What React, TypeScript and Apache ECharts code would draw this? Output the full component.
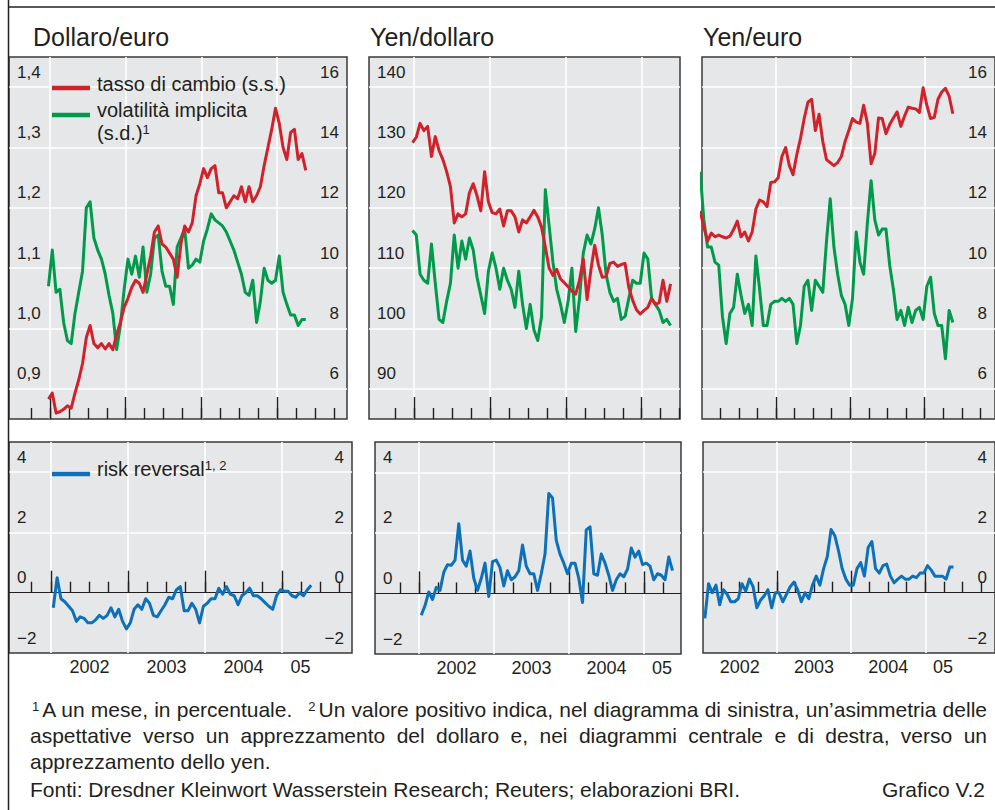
import React, { useEffect, useRef } from 'react';
import * as echarts from 'echarts';

// ---- time base: points every 0.05 year starting late Dec 2001 ----
const START = 2001.98;
const STEP = 0.05;

// ---- Dollaro/euro ----
const usdEurRate = [0.883, 0.893, 0.86, 0.862, 0.866, 0.872, 0.868, 0.893, 0.915, 0.942, 0.985, 1.005, 0.975, 0.968, 0.975, 0.966, 0.975, 0.965, 0.99, 1.01, 1.035, 1.05, 1.068, 1.08, 1.075, 1.06, 1.09, 1.12, 1.16, 1.17, 1.14, 1.135, 1.125, 1.115, 1.085, 1.14, 1.17, 1.16, 1.175, 1.22, 1.24, 1.265, 1.25, 1.265, 1.27, 1.225, 1.225, 1.2, 1.21, 1.22, 1.215, 1.235, 1.21, 1.235, 1.21, 1.22, 1.235, 1.27, 1.3, 1.33, 1.365, 1.34, 1.3, 1.28, 1.325, 1.33, 1.28, 1.29, 1.262];
const usdEurVol = [9.4, 10.6, 9.2, 9.3, 8.2, 7.6, 7.5, 8.5, 9.2, 9.9, 12.0, 12.2, 11.0, 10.6, 10.3, 9.8, 9.1, 8.5, 7.3, 8.1, 9.3, 10.3, 9.8, 10.4, 9.7, 10.7, 9.2, 9.8, 11.0, 11.1, 9.9, 9.4, 9.4, 8.8, 10.7, 11.0, 11.3, 10.0, 10.1, 10.3, 10.2, 10.9, 11.3, 11.8, 11.6, 11.5, 11.4, 11.2, 10.9, 10.6, 10.2, 9.8, 9.2, 9.1, 9.6, 8.2, 8.9, 10.0, 9.6, 9.5, 9.6, 10.4, 9.2, 8.8, 8.45, 8.45, 8.1, 8.3, 8.3];
const rrUsdEur = [null, -0.5, 0.5, -0.2, -0.3, -0.45, -0.6, -0.95, -0.8, -0.85, -1.0, -1.0, -0.9, -0.75, -0.85, -0.75, -0.5, -0.8, -0.55, -0.95, -1.2, -1.0, -0.55, -0.4, -0.55, -0.2, -0.35, -0.75, -0.8, -0.6, -0.4, -0.15, -0.2, 0.1, 0.2, -0.6, -0.6, -0.35, -0.55, -1.0, -0.45, -0.35, -0.2, -0.2, 0.15, -0.05, 0.2, -0.05, -0.1, -0.4, -0.1, 0.0, 0.15, -0.1, -0.1, -0.2, -0.33, -0.45, -0.55, -0.1, 0.1, 0.05, 0.05, -0.1, -0.15, 0.0, -0.1, 0.1, 0.25];

// ---- Yen/dollaro ----
const jpyUsdRate = [130.8, 131.7, 134.0, 132.8, 133.5, 128.5, 131.8, 129.5, 128.0, 126.0, 123.5, 117.5, 119.0, 118.5, 119.0, 122.5, 124.0, 122.0, 119.5, 126.0, 121.0, 119.2, 119.0, 119.8, 117.0, 119.5, 119.5, 118.5, 116.0, 118.0, 117.5, 118.5, 119.6, 118.5, 116.8, 113.5, 110.0, 108.8, 109.8, 108.2, 107.6, 106.9, 106.2, 105.7, 108.0, 111.5, 104.8, 109.7, 113.8, 110.5, 108.5, 108.6, 110.8, 111.0, 110.3, 110.6, 110.8, 106.8, 104.7, 103.1, 102.4, 103.0, 103.5, 105.0, 104.0, 104.3, 108.0, 104.5, 107.4];
const jpyUsdVol = [11.25, 11.1, 9.8, 9.6, 9.5, 10.8, 9.5, 8.3, 8.2, 8.9, 9.5, 11.1, 10.0, 10.9, 10.3, 11.0, 10.6, 9.7, 9.1, 8.5, 9.9, 10.5, 10.0, 9.3, 10.0, 9.6, 9.3, 8.7, 9.9, 8.8, 8.0, 8.8, 7.95, 7.6, 8.4, 12.6, 11.4, 10.2, 9.3, 8.8, 8.2, 8.9, 10.0, 7.9, 9.0, 10.5, 11.1, 10.8, 11.3, 12.0, 11.1, 9.8, 9.2, 8.9, 9.0, 8.3, 8.4, 9.0, 9.6, 9.5, 9.5, 10.5, 10.3, 9.0, 8.8, 8.6, 8.2, 8.3, 8.1];
const rrJpyUsd = [null, -0.72, -0.4, 0.05, -0.2, 0.2, 0.1, 0.7, 0.95, 0.93, 1.1, 2.3, 1.1, 0.9, 1.4, 0.5, 0.1, 0.5, 1.0, -0.1, 1.05, 1.1, 0.85, 0.25, 0.75, 0.45, 0.55, 0.75, 1.6, 0.9, 0.65, 0.65, 0.1, 0.65, 1.3, 3.3, 3.15, 1.75, 1.3, 1.0, 0.65, 1.0, 1.0, 0.5, -0.3, 2.1, 2.2, 0.65, 0.6, 1.3, 1.0, 0.6, 0.1, 0.45, 0.65, 0.55, 0.8, 1.5, 1.2, 1.4, 0.95, 1.0, 0.9, 0.45, 0.65, 0.6, 0.45, 1.2, 0.75];

// ---- Yen/euro ----
const jpyEurRate = [119.5, 116.8, 114.5, 115.8, 115.2, 115.5, 115.2, 115.0, 115.3, 116.4, 117.8, 115.2, 116.0, 114.5, 116.0, 119.8, 121.3, 121.0, 120.2, 124.2, 124.3, 125.0, 128.5, 130.0, 127.0, 125.5, 128.8, 131.5, 134.8, 137.5, 138.0, 132.8, 135.5, 131.0, 128.0, 127.5, 127.0, 127.5, 128.5, 131.0, 132.8, 134.8, 134.2, 134.0, 137.0, 134.0, 127.3, 129.0, 134.9, 134.8, 132.3, 133.8, 134.9, 135.9, 133.5, 135.2, 136.7, 136.5, 136.4, 135.8, 139.9, 137.0, 134.8, 135.0, 138.0, 139.2, 139.8, 138.5, 135.6];
const jpyEurVol = [13.2, 11.6, 10.7, 10.7, 10.2, 10.1, 8.4, 7.5, 8.5, 8.7, 9.8, 9.1, 8.5, 8.8, 8.1, 10.4, 9.3, 8.1, 8.1, 8.8, 8.9, 8.9, 9.0, 8.9, 9.0, 8.8, 7.5, 8.1, 9.4, 9.6, 8.6, 9.6, 9.4, 9.2, 10.9, 12.3, 10.7, 9.8, 9.1, 8.8, 8.1, 9.0, 11.2, 10.2, 9.8, 11.5, 12.9, 11.6, 11.1, 11.3, 11.3, 10.1, 9.3, 8.3, 8.6, 8.1, 8.7, 8.2, 8.6, 8.7, 8.3, 9.4, 9.7, 8.5, 8.1, 8.1, 7.0, 8.6, 8.2];
const rrJpyEur = [null, -0.85, 0.3, 0.0, 0.25, -0.4, 0.1, -0.05, -0.3, -0.3, -0.2, 0.3, 0.05, 0.45, 0.2, -0.5, -0.25, -0.1, 0.1, -0.5, 0.0, 0.0, -0.3, -0.05, 0.2, 0.35, 0.1, -0.3, 0.0, -0.2, 0.25, 0.55, 0.25, 0.8, 1.2, 2.1, 1.9, 1.4, 0.8, 0.45, 0.25, 0.25, 0.8, 1.0, 0.55, 1.5, 1.7, 0.8, 0.65, 0.9, 0.95, 0.55, 0.33, 0.45, 0.55, 0.45, 0.45, 0.55, 0.5, 0.65, 0.65, 0.9, 0.75, 0.55, 0.55, 0.55, 0.45, 0.85, 0.85];

// ---- ticks / labels ----
const quarterTicks = [2001.75, 2002, 2002.25, 2002.5, 2002.75, 2003, 2003.25, 2003.5, 2003.75, 2004, 2004.25, 2004.5, 2004.75, 2005, 2005.25, 2005.5, 2005.75];
const yearTicks = [2002, 2003, 2004, 2005];
const yearLabelPos = [2002.5, 2003.5, 2004.5, 2005.24];
const yearLabels = ['2002', '2003', '2004', '05'];
const dollarEuroTicks = [0.9, 1.0, 1.1, 1.2, 1.3, 1.4];
const yenTicks = [90, 100, 110, 120, 130, 140];
const volTicks = [6, 8, 10, 12, 14, 16];
const rrTicks = [-2, 0, 2, 4];
const rrGridTicks = [2, 4];

const FONT = '"Liberation Sans", Arial, Helvetica, sans-serif';
const INK = '#231f20';
const RED = '#d0222b';
const GREEN = '#009a4b';
const BLUE = '#0c71b8';
const PANEL_BG = '#e6e7e8';

const toPairs = (vals: (number | null)[]) => {
  const out: number[][] = [];
  vals.forEach((v, i) => {
    if (v !== null) out.push([START + STEP * i, v]);
  });
  return out;
};

const commaFmt = (v: number) => Number(v).toFixed(1).replace('.', ',');
const intFmt = (v: number) => String(Math.round(v));
const signedFmt = (v: number) => (v < 0 ? '\u2212' + Math.abs(Math.round(v)) : String(Math.round(v)));
const yearFmt = (v: number) => {
  let best = 0;
  yearLabelPos.forEach((p, k) => {
    if (Math.abs(p - v) < Math.abs(yearLabelPos[best] - v)) best = k;
  });
  return yearLabels[best];
};

type S = { name: string; data: (number | null)[]; color: string; axis: 'left' | 'right' };
type Panel = {
  rect: [number, number, number, number];
  xMin: number;
  xMax: number;
  yLeft: [number, number];
  yRight: [number, number];
  gridVals: number[];
  leftLabels?: { values: number[]; fmt: (v: number) => string };
  rightLabels?: { values: number[]; fmt: (v: number) => string };
  zeroLine?: boolean;
  yearAxisLabels?: boolean;
  series: S[];
};

const panels: Panel[] = [
  {
    rect: [9, 57, 338, 362], xMin: 2001.458, xMax: 2005.925, yLeft: [0.85, 1.45], yRight: [5, 17],
    gridVals: dollarEuroTicks,
    leftLabels: { values: dollarEuroTicks, fmt: commaFmt },
    rightLabels: { values: volTicks, fmt: intFmt },
    series: [
      { name: 'volatilità implicita – dollaro/euro', data: usdEurVol, color: GREEN, axis: 'right' },
      { name: 'tasso di cambio – dollaro/euro', data: usdEurRate, color: RED, axis: 'left' },
    ],
  },
  {
    rect: [369, 57, 311, 362], xMin: 2001.407, xMax: 2005.504, yLeft: [85, 145], yRight: [5, 17],
    gridVals: yenTicks,
    leftLabels: { values: yenTicks, fmt: intFmt },
    series: [
      { name: 'volatilità implicita – yen/dollaro', data: jpyUsdVol, color: GREEN, axis: 'right' },
      { name: 'tasso di cambio – yen/dollaro', data: jpyUsdRate, color: RED, axis: 'left' },
    ],
  },
  {
    rect: [702, 57, 298, 362], xMin: 2002.005, xMax: 2005.947, yLeft: [85, 145], yRight: [5, 17],
    gridVals: yenTicks,
    rightLabels: { values: volTicks, fmt: intFmt },
    series: [
      { name: 'volatilità implicita – yen/euro', data: jpyEurVol, color: GREEN, axis: 'right' },
      { name: 'tasso di cambio – yen/euro', data: jpyEurRate, color: RED, axis: 'left' },
    ],
  },
  {
    rect: [9, 442, 343, 211], xMin: 2001.455, xMax: 2005.91, yLeft: [-2, 5], yRight: [-2, 5],
    gridVals: rrGridTicks, zeroLine: true, yearAxisLabels: true,
    leftLabels: { values: rrTicks, fmt: signedFmt },
    rightLabels: { values: rrTicks, fmt: signedFmt },
    series: [{ name: 'risk reversal – dollaro/euro', data: rrUsdEur, color: BLUE, axis: 'left' }],
  },
  {
    rect: [375, 442, 306, 212], xMin: 2001.413, xMax: 2005.493, yLeft: [-2, 5], yRight: [-2, 5],
    gridVals: rrGridTicks, zeroLine: true, yearAxisLabels: true,
    leftLabels: { values: rrTicks, fmt: signedFmt },
    series: [{ name: 'risk reversal – yen/dollaro', data: rrJpyUsd, color: BLUE, axis: 'left' }],
  },
  {
    rect: [703, 442, 297, 211], xMin: 2002.005, xMax: 2005.939, yLeft: [-2, 5], yRight: [-2, 5],
    gridVals: rrGridTicks, zeroLine: true, yearAxisLabels: true,
    rightLabels: { values: rrTicks, fmt: signedFmt },
    series: [{ name: 'risk reversal – yen/euro', data: rrJpyEur, color: BLUE, axis: 'left' }],
  },
];

const yLabel = (values: number[], fmt: (v: number) => string) => ({
  show: true,
  inside: true,
  customValues: values,
  formatter: fmt,
  margin: 8,
  verticalAlign: 'bottom',
  lineHeight: 30,
  fontSize: 17,
  fontFamily: FONT,
  color: INK,
});

function buildOption() {
  const grid: any[] = [];
  const xAxis: any[] = [];
  const yAxis: any[] = [];
  const series: any[] = [];
  const tickLine = { color: INK, width: 1.4 };
  const white = { color: '#ffffff', width: 1.6 };

  panels.forEach((p, g) => {
    grid.push({
      left: p.rect[0], top: p.rect[1], width: p.rect[2], height: p.rect[3],
      show: true, backgroundColor: PANEL_BG, borderColor: '#3a3a3a', borderWidth: 1.5,
    });
    const xIdx = xAxis.length;
    xAxis.push({
      type: 'value', gridIndex: g, position: 'bottom', min: p.xMin, max: p.xMax,
      axisLine: { show: false },
      axisTick: { show: true, inside: true, length: 11, customValues: quarterTicks, lineStyle: tickLine },
      splitLine: { show: false },
      axisLabel: p.yearAxisLabels
        ? { show: true, customValues: yearLabelPos, formatter: yearFmt, margin: 14, verticalAlign: 'middle', fontSize: 18, fontFamily: FONT, color: INK }
        : { show: false },
    });
    xAxis.push({
      type: 'value', gridIndex: g, position: 'bottom', min: p.xMin, max: p.xMax,
      axisLine: { show: false },
      axisTick: { show: true, inside: true, length: 22, customValues: yearTicks, lineStyle: tickLine },
      splitLine: { show: true, lineStyle: white },
      axisLabel: { show: false },
    });
    const yl = yAxis.length;
    yAxis.push({
      type: 'value', gridIndex: g, position: 'left', min: p.yLeft[0], max: p.yLeft[1],
      axisLine: { show: false },
      axisTick: { show: false, customValues: p.gridVals },
      splitLine: { show: true, lineStyle: white },
      axisLabel: p.leftLabels ? yLabel(p.leftLabels.values, p.leftLabels.fmt) : { show: false },
    });
    const yr = yAxis.length;
    yAxis.push({
      type: 'value', gridIndex: g, position: 'right', min: p.yRight[0], max: p.yRight[1],
      axisLine: { show: false },
      axisTick: { show: false, customValues: p.rightLabels ? p.rightLabels.values : [] },
      splitLine: { show: false },
      axisLabel: p.rightLabels ? yLabel(p.rightLabels.values, p.rightLabels.fmt) : { show: false },
    });
    if (p.zeroLine) {
      yAxis.push({
        type: 'value', gridIndex: g, position: 'left', min: p.yLeft[0], max: p.yLeft[1], z: 1,
        axisLine: { show: false },
        axisTick: { show: false, customValues: [0] },
        splitLine: { show: true, lineStyle: { color: INK, width: 1.2 } },
        axisLabel: { show: false },
      });
    }
    p.series.forEach((s) => {
      series.push({
        type: 'line', name: s.name, xAxisIndex: xIdx, yAxisIndex: s.axis === 'left' ? yl : yr,
        data: toPairs(s.data), showSymbol: false, symbol: 'none', silent: true, z: 3,
        lineStyle: { color: s.color, width: 3, join: 'round' }, itemStyle: { color: s.color },
      });
    });
  });

  const txt = (x: number, y: number, text: string, size: number, extra: any = {}) => ({
    type: 'text', x, y, z: 20, silent: true,
    style: { text, fontSize: size, fontFamily: FONT, fill: INK, align: 'left', verticalAlign: 'middle', ...extra },
  });
  const seg = (x1: number, y1: number, x2: number, y2: number, color: string, w: number) => ({
    type: 'line', z: 20, silent: true, shape: { x1, y1, x2, y2 }, style: { stroke: color, lineWidth: w },
  });
  const supRich = {
    sup: { fontSize: 13, fontFamily: FONT, fill: INK, verticalAlign: 'top', lineHeight: 13 },
  };

  const graphic = [
    seg(8.5, 0, 8.5, 810, INK, 1.5),
    seg(8, 7, 995, 7, INK, 1.5),
    txt(33, 36.5, 'Dollaro/euro', 25),
    txt(370, 36.5, 'Yen/dollaro', 25),
    txt(703, 36.5, 'Yen/euro', 25),
    seg(52, 88, 90, 88, RED, 4.5),
    txt(97, 84, 'tasso di cambio (s.s.)', 20),
    seg(52, 115, 90, 115, GREEN, 4.5),
    txt(97, 110, 'volatilità implicita', 20),
    txt(97, 132.5, '(s.d.){sup|1}', 20, { rich: supRich }),
    seg(52, 474, 90, 474, BLUE, 4.5),
    txt(97, 469, 'risk reversal{sup|1, 2}', 20, { rich: supRich }),
  ];

  return {
    animation: false,
    backgroundColor: '#ffffff',
    textStyle: { fontFamily: FONT },
    grid,
    xAxis,
    yAxis,
    series,
    graphic,
  };
}

const footLine: React.CSSProperties = {
  position: 'absolute',
  left: 30,
  width: 957,
  height: 25,
  lineHeight: '25px',
  fontSize: 21,
  fontFamily: FONT,
  color: INK,
  whiteSpace: 'normal',
};
const supStyle: React.CSSProperties = { fontSize: 13, verticalAlign: '6px', lineHeight: 0 };

export default function App() {
  const ref = useRef<HTMLDivElement>(null);
  useEffect(() => {
    if (!ref.current) return;
    const chart = echarts.init(ref.current, undefined, { renderer: 'svg' });
    chart.setOption(buildOption() as any);
    return () => chart.dispose();
  }, []);
  return (
    <div style={{ position: 'absolute', left: 0, top: 0, width: 995, height: 810, background: '#fff', overflow: 'hidden' }}>
      <div ref={ref} style={{ position: 'absolute', left: 0, top: 0, width: 995, height: 810 }} />
      <div style={{ ...footLine, top: 697, textAlign: 'justify', textAlignLast: 'justify' }}>
        <sup style={{ ...supStyle, marginLeft: 2, marginRight: 3 }}>1</sup>A un mese, in percentuale.
        <span style={{ display: 'inline-block', width: 16 }} />
        <sup style={{ ...supStyle, marginRight: 3 }}>2</sup>Un valore positivo indica, nel diagramma di sinistra, un’asimmetria delle
      </div>
      <div style={{ ...footLine, top: 723, textAlign: 'justify', textAlignLast: 'justify' }}>
        aspettative verso un apprezzamento del dollaro e, nei diagrammi centrale e di destra, verso un
      </div>
      <div style={{ ...footLine, top: 748.5 }}>apprezzamento dello yen.</div>
      <div style={{ ...footLine, top: 777, display: 'flex', justifyContent: 'space-between', width: 955 }}>
        <span>Fonti: Dresdner Kleinwort Wasserstein Research; Reuters; elaborazioni BRI.</span>
        <span>Grafico V.2</span>
      </div>
    </div>
  );
}
